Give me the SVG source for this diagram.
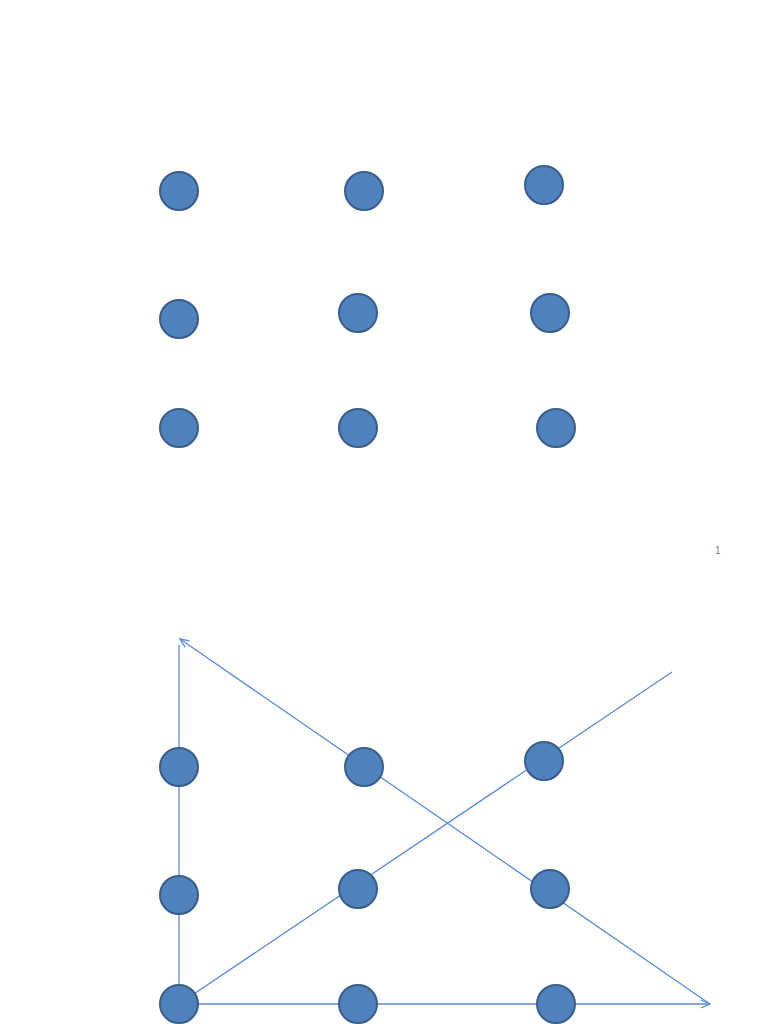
<svg xmlns="http://www.w3.org/2000/svg" width="768" height="1024" viewBox="0 0 768 1024">
<defs>
<style>
.n{fill:#4F81BD;stroke:#385D8A;stroke-width:2}
.c{fill:none;stroke:#5B8DD3;stroke-width:1.3}
.t{font-family:"Liberation Sans",Arial,sans-serif;font-size:10px;fill:#7F7F7F}
</style>
<marker id="ah" viewBox="0 0 10 10" refX="9" refY="5" markerWidth="10" markerHeight="10" orient="auto" markerUnits="userSpaceOnUse">
<path d="M0,1 L9,5 L0,9" fill="none" stroke="#5B8DD3" stroke-width="1.3"/>
</marker>
</defs>
<rect width="768" height="1024" fill="#fff"/>
<g id="connectors">
<line class="c" x1="179" y1="1004" x2="179" y2="645"/>
<line class="c" x1="710" y1="1004" x2="180" y2="639" marker-end="url(#ah)"/>
<line class="c" x1="179" y1="1004" x2="710" y2="1004" marker-end="url(#ah)"/>
<line class="c" x1="179" y1="1004" x2="672" y2="672"/>
</g>
<g id="top-grid">
<g id="t1"><circle class="n" cx="179" cy="191" r="19"/></g>
<g id="t2"><circle class="n" cx="364" cy="191" r="19"/></g>
<g id="t3"><circle class="n" cx="544" cy="185" r="19"/></g>
<g id="t4"><circle class="n" cx="179" cy="319" r="19"/></g>
<g id="t5"><circle class="n" cx="358" cy="313" r="19"/></g>
<g id="t6"><circle class="n" cx="550" cy="313" r="19"/></g>
<g id="t7"><circle class="n" cx="179" cy="428" r="19"/></g>
<g id="t8"><circle class="n" cx="358" cy="428" r="19"/></g>
<g id="t9"><circle class="n" cx="556" cy="428" r="19"/></g>
</g>
<text class="t" x="715" y="554">1</text>
<g id="bottom-grid">
<g id="b1"><circle class="n" cx="179" cy="767" r="19"/></g>
<g id="b2"><circle class="n" cx="364" cy="767" r="19"/></g>
<g id="b3"><circle class="n" cx="544" cy="761" r="19"/></g>
<g id="b4"><circle class="n" cx="179" cy="895" r="19"/></g>
<g id="b5"><circle class="n" cx="358" cy="889" r="19"/></g>
<g id="b6"><circle class="n" cx="550" cy="889" r="19"/></g>
<g id="b7"><circle class="n" cx="179" cy="1004" r="19"/></g>
<g id="b8"><circle class="n" cx="358" cy="1004" r="19"/></g>
<g id="b9"><circle class="n" cx="556" cy="1004" r="19"/></g>
</g>
</svg>
